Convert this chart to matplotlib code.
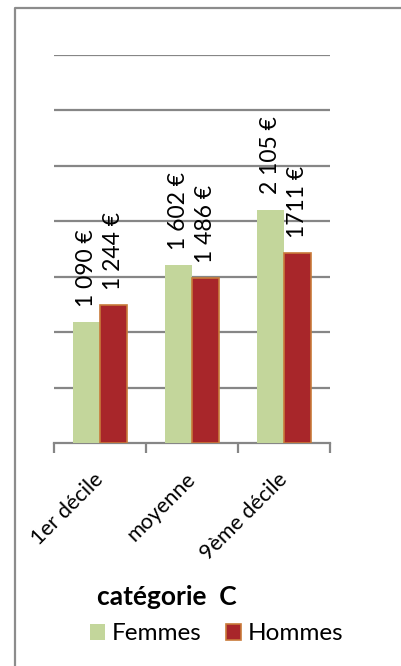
import matplotlib.pyplot as plt
import numpy as np
from matplotlib.lines import Line2D
from matplotlib.transforms import ScaledTranslation

categories = ['1er décile', 'moyenne', '9ème décile']
femmes = [1090, 1602, 2105]
hommes = [1244, 1486, 1711]
labels_femmes = ['1 090 €', '1 602 €', '2 105 €']
labels_hommes = ['1 244 €', '1 486 €', '1711 €']

plt.rcParams['font.family'] = ['Lato', 'DejaVu Sans']

fig = plt.figure(figsize=(4.02, 6.66), dpi=100)
# cadre gris (haut et gauche)
fx, fy = 15 / 402, 1 - 8 / 666
fig.lines.append(Line2D([fx, fx, 1.01], [-0.01, fy, fy], transform=fig.transFigure,
                        color='#8c8c8c', linewidth=1.6))

ax = fig.add_axes([54 / 402, 1 - 443 / 666, 276 / 402, 388 / 666])

x = np.arange(len(categories))
w = 0.29
ax.bar(x - w / 2, femmes, w, color='#c3d69b', zorder=3)
ax.bar(x + w / 2, hommes, w, color='#a8262a', edgecolor='#c87a3a',
       linewidth=1.2, zorder=3)

for i in range(len(categories)):
    ax.annotate(labels_femmes[i], (x[i] - w / 2, femmes[i]), xytext=(0, 11),
                textcoords='offset points', rotation=90, ha='center',
                va='bottom', fontsize=16.5)
    ax.annotate(labels_hommes[i], (x[i] + w / 2, hommes[i]), xytext=(0, 11),
                textcoords='offset points', rotation=90, ha='center',
                va='bottom', fontsize=16.5)

ax.set_xlim(-0.5, 2.5)
ax.set_ylim(0, 3500)
ax.set_yticks(np.arange(500, 3501, 500))
ax.yaxis.grid(True, color='#868686', linewidth=1.6, zorder=0)
ax.tick_params(axis='y', length=0, labelleft=False)

ax.set_xticks([-0.5, 0.5, 1.5, 2.5])
ax.set_xticklabels([])
ax.set_xticks(x, minor=True)
ax.set_xticklabels(categories, minor=True, rotation=45, ha='right',
                   va='top', rotation_mode='anchor', fontsize=15.5)
ax.tick_params(axis='x', which='major', length=7, width=1.6, color='#868686')
ax.tick_params(axis='x', which='minor', length=0, pad=19)
shift = ScaledTranslation(-7 / 100, 0, fig.dpi_scale_trans)
for lbl in ax.get_xticklabels(minor=True):
    lbl.set_transform(lbl.get_transform() + shift)

for s in ['left', 'right', 'top']:
    ax.spines[s].set_visible(False)
ax.spines['bottom'].set_color('#868686')
ax.spines['bottom'].set_linewidth(1.6)

fig.text(167 / 402, 1 - 597 / 666, 'catégorie  C', ha='center', va='center',
         fontsize=19, fontweight='bold')
leg = fig.legend(['Femmes', 'Hommes'], loc='center', ncol=2,
                 bbox_to_anchor=(217 / 402, 1 - 634 / 666), frameon=False,
                 fontsize=17.5, handlelength=0.6, handleheight=0.6,
                 handletextpad=0.3, columnspacing=1.0)

fig.savefig('out.png', dpi=100)
